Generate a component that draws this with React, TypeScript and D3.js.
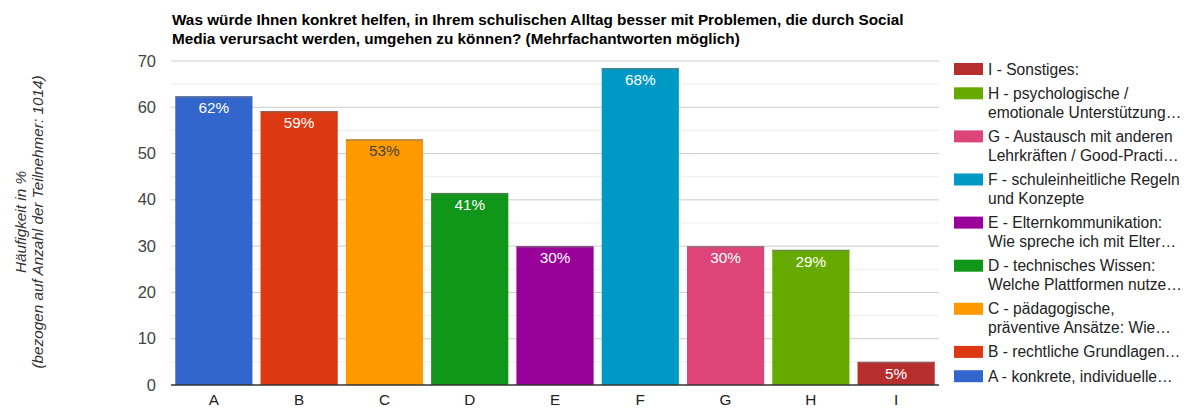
import * as d3 from "d3";

const categories = ["A", "B", "C", "D", "E", "F", "G", "H", "I"];
const values = [62.4, 59.2, 53.1, 41.5, 30.0, 68.5, 30.0, 29.2, 5.0];
const labels = ["62%", "59%", "53%", "41%", "30%", "68%", "30%", "29%", "5%"];
const colors = ["#3366cc", "#dc3912", "#ff9900", "#109618", "#990099", "#0099c6", "#dd4477", "#66aa00", "#b82e2e"];
const darkLabel = [false, false, true, false, false, false, false, false, false];
const yTicks = [0, 10, 20, 30, 40, 50, 60, 70];
const minorTicks = [5, 15, 25, 35, 45, 55, 65];

// legend is listed bottom-up (I first), wrapped lines as shown
const legendLines: string[][] = [
  ["I - Sonstiges:"],
  ["H - psychologische /", "emotionale Unterstützung…"],
  ["G - Austausch mit anderen", "Lehrkräften / Good-Practi…"],
  ["F - schuleinheitliche Regeln", "und Konzepte"],
  ["E - Elternkommunikation:", "Wie spreche ich mit Elter…"],
  ["D - technisches Wissen:", "Welche Plattformen nutze…"],
  ["C - pädagogische,", "präventive Ansätze: Wie…"],
  ["B - rechtliche Grundlagen…"],
  ["A - konkrete, individuelle…"],
];
const legendColors = [...colors].reverse();

const titleLines = [
  "Was würde Ihnen konkret helfen, in Ihrem schulischen Alltag besser mit Problemen, die durch Social",
  "Media verursacht werden, umgehen zu können? (Mehrfachantworten möglich)",
];
const yTitle = ["Häufigkeit in %", "(bezogen auf Anzahl der Teilnehmer: 1014)"];

const W = 1188;
const H = 408;
const left = 171;
const right = 939;
const top = 61;
const bottom = 385;
const font = "Arial, 'Liberation Sans', sans-serif";

export default function App() {
  const x = d3.scaleBand<string>().domain(categories).range([left, right]).paddingInner(0.095).paddingOuter(0.05);
  const y = d3.scaleLinear().domain([0, 70]).range([bottom, top]);

  // legend layout
  let ly = 69;
  const legendItems = legendLines.map((lines, i) => {
    const item = { lines, color: legendColors[i], y: ly };
    ly += lines.length * 18.8 + 5.5;
    return item;
  });

  return (
    <svg width={W} height={H} style={{ position: "absolute", left: 0, top: 0, background: "#fff" }} fontFamily={font}>
      {titleLines.map((t, i) => (
        <text key={t} x={172} y={24.5 + i * 19} fontSize={15.3} fontWeight="bold" fill="#000">{t}</text>
      ))}

      {minorTicks.map((t) => (
        <line key={"m" + t} x1={left} x2={right} y1={y(t)} y2={y(t)} stroke="#ececec" />
      ))}
      {yTicks.map((t) => (
        <g key={t}>
          {t > 0 && <line x1={left} x2={right} y1={y(t)} y2={y(t)} stroke="#cccccc" />}
          <text x={156} y={y(t) + 5.5} fontSize={16.5} textAnchor="end" fill="#444">{t}</text>
        </g>
      ))}

      <g transform="translate(26,222) rotate(-90)">
        {yTitle.map((t, i) => (
          <text key={t} x={0} y={i * 17} fontSize={15.3} fontStyle="italic" textAnchor="middle" fill="#333">{t}</text>
        ))}
      </g>

      {categories.map((c, i) => {
        const bx = x(c)!;
        const bw = x.bandwidth();
        const by = y(values[i]);
        return (
          <g key={c}>
            <rect x={bx} y={by} width={bw} height={bottom - by} fill={colors[i]} />
            <line x1={bx} x2={bx + bw} y1={by + 0.75} y2={by + 0.75} stroke="#777" strokeOpacity={0.6} strokeWidth={1.5} />
            <text x={bx + bw / 2} y={by + 17} fontSize={15.3} textAnchor="middle" fill={darkLabel[i] ? "#444" : "#fff"}>{labels[i]}</text>
            <text x={bx + bw / 2} y={405} fontSize={15.3} textAnchor="middle" fill="#222">{c}</text>
          </g>
        );
      })}

      <line x1={left} x2={right} y1={bottom} y2={bottom} stroke="#333" strokeWidth={1.5} />

      {legendItems.map((it) => (
        <g key={it.lines[0]}>
          <rect x={954} y={it.y - 6} width={29} height={12} fill={it.color} />
          {it.lines.map((l, j) => (
            <text key={l} x={988} y={it.y + 5.5 + j * 18.8} fontSize={15.6} fill="#222">{l}</text>
          ))}
        </g>
      ))}
    </svg>
  );
}
